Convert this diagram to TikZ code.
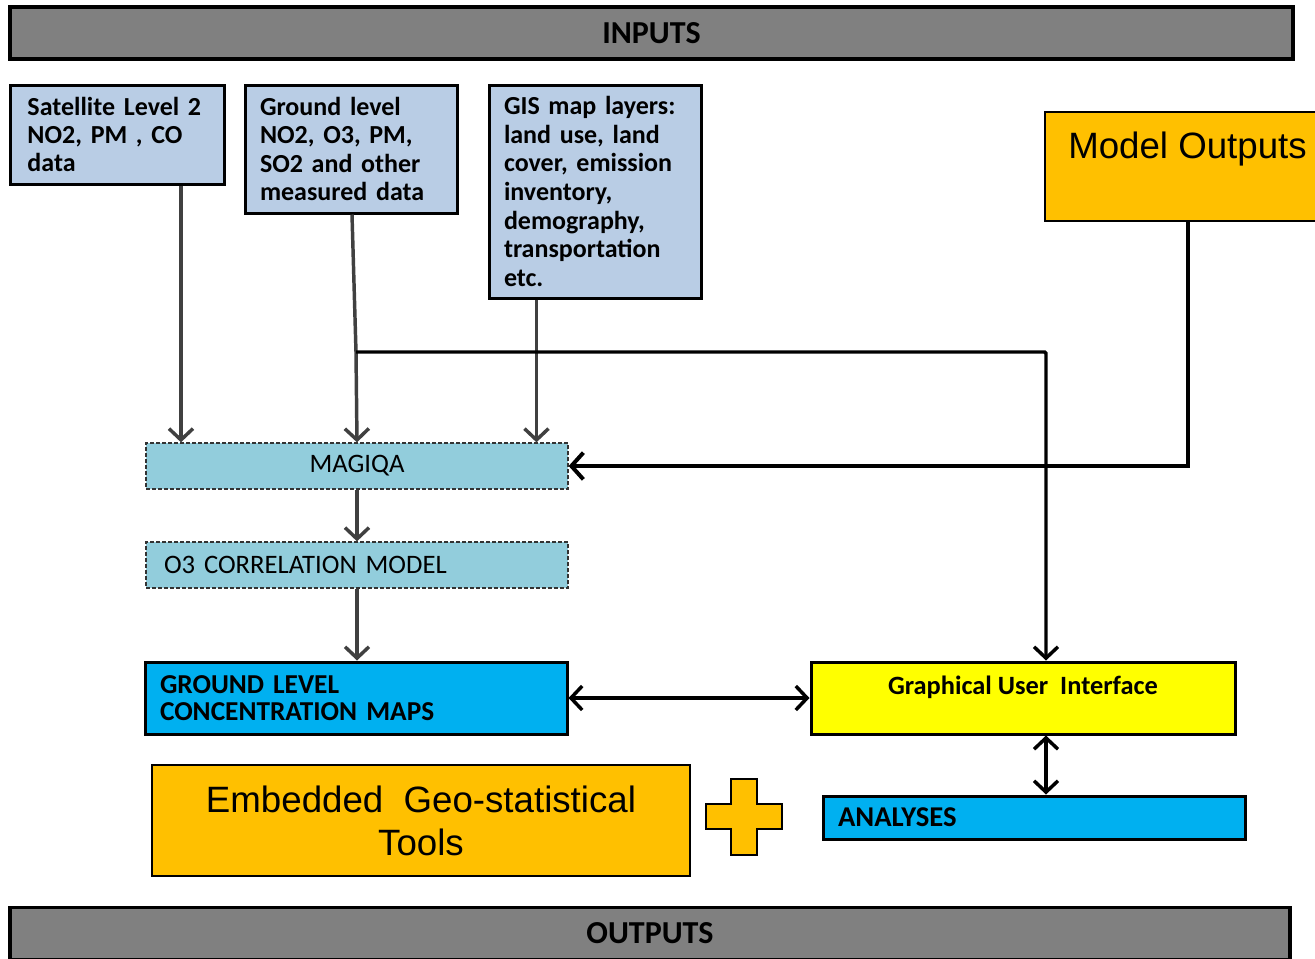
\documentclass[tikz,border=0pt]{standalone}
\usepackage{fontspec}
\setmainfont{Carlito}
\newfontfamily\arialfont{Liberation Sans}
\usetikzlibrary{arrows.meta}
\definecolor{bargray}{HTML}{808080}
\definecolor{inblue}{HTML}{B9CDE5}
\definecolor{modblue}{HTML}{92CDDC}
\definecolor{mapblue}{HTML}{00B0F0}
\definecolor{outorange}{HTML}{FFC000}
\definecolor{guiyellow}{HTML}{FFFF00}
\definecolor{arrgray}{HTML}{404040}
\begin{document}
\begin{tikzpicture}[x=0.75pt,y=-0.75pt,
   bar/.style={draw=black, line width=2.5pt, fill=bargray, minimum height=39pt, inner sep=0pt, font=\fontsize{24}{28}\selectfont\bfseries},
   inbox/.style={draw=black, line width=2.25pt, fill=inblue, align=left, inner xsep=11.25pt, inner ysep=0pt, font=\fontsize{19.5}{21.3}\selectfont\bfseries},
   modbox/.style={draw=black!80, line width=1pt, dash pattern=on 3pt off 1.5pt, fill=modblue, minimum width=316.5pt, minimum height=34.5pt, inner ysep=0pt, font=\fontsize{20}{24}\selectfont},
   mapbox/.style={draw=black, line width=2.25pt, fill=mapblue, align=left, inner xsep=11.25pt, inner ysep=0pt, font=\fontsize{20.5}{20.3}\selectfont\bfseries},
   bigbox/.style={draw=black, line width=1.5pt, fill=outorange, align=center, inner sep=0pt, font=\arialfont\fontsize{27.5}{32.25}\selectfont},
   garrow/.style={draw=arrgray, line width=2.6pt, -{Straight Barb[length=8.5pt,width=18pt]}},
   barrow/.style={draw=black, line width=3pt, -{Straight Barb[length=9pt,width=20pt]}},
   darrow/.style={draw=black, line width=2.6pt, {Straight Barb[length=8.5pt,width=18pt]}-{Straight Barb[length=8.5pt,width=18pt]}}]
   \useasboundingbox (0,0) rectangle (1315,958);
   % bars
   \node[bar, minimum width=962.25pt] (inputs) at (651.5,33) {INPUTS};
   \node[bar, minimum width=960pt] (outputs) at (650,933.5) {OUTPUTS};
   % input boxes
   \node[inbox, text width=135pt, minimum height=74.25pt, inner xsep=12.4pt] (sat) at (117.5,134.5) {Satellite Level 2\\NO2, PM , CO\\data};
   \node[inbox, text width=136.5pt, minimum height=96pt] (ground) at (351,149) {Ground level\\NO2, O3, PM,\\SO2 and other\\measured data};
   \node[inbox, text width=136.5pt, minimum height=159.75pt, font=\fontsize{19.5}{21.4}\selectfont\bfseries] (gis) at (595,191.5) {GIS map layers:\\land use, land\\cover, emission\\inventory,\\demography,\\transportation\\etc.};
   \node[bigbox, minimum width=213.75pt, minimum height=81.75pt] (mout) at (1187.5,166.5) {Model Outputs\\\mbox{}};
   % model chain
   \node[modbox] (magiqa) at (357,466) {MAGIQA};
   \node[modbox, align=left, text width=289.5pt, inner xsep=13.5pt] (o3) at (357,565) {O3 CORRELATION MODEL};
   \node[mapbox, text width=294pt, minimum height=54pt] (maps) at (356,698) {GROUND LEVEL\\CONCENTRATION MAPS};
   \node[draw=black, line width=2.25pt, fill=guiyellow, minimum width=318pt, minimum height=54pt, inner sep=0pt, align=center, font=\fontsize{19.8}{19.5}\selectfont\bfseries] (gui) at (1023,698) {Graphical User \ Interface\\\mbox{}};
   \node[mapbox, text width=294pt, minimum height=32.25pt, font=\fontsize{21.5}{24}\selectfont\bfseries] (ana) at (1034,817.5) {ANALYSES};
   \node[bigbox, minimum width=403.5pt, minimum height=83.25pt] (geo) at (421,820.5) {Embedded \ Geo-statistical\\Tools};
   % plus sign
   \filldraw[fill=outorange, draw=black, line width=1.5pt] (731,779) -- (757,779) -- (757,804) -- (782,804) -- (782,829) -- (757,829) -- (757,855) -- (731,855) -- (731,829) -- (706,829) -- (706,804) -- (731,804) -- cycle;
   % connectors
   \coordinate (split) at (356,352);
   \coordinate (guitop) at ([xshift=17.25pt]gui.north);
   \draw[garrow] ([xshift=47.6pt]sat.south) -- ([xshift=47.6pt]sat.south |- magiqa.north);
   \draw[garrow] ([xshift=0.75pt]ground.south) -- (split) -- (magiqa.north);
   \draw[garrow] ([xshift=-43.9pt]gis.south) -- ([xshift=-43.9pt]gis.south |- magiqa.north);
   \draw[garrow, draw=black, rounded corners=1pt] (split) -| (guitop);
   \draw[barrow] (mout.south) |- (magiqa.east);
   \draw[garrow] (magiqa.south) -- (o3.north);
   \draw[garrow] (o3.south) -- (o3.south |- maps.north);
   \draw[darrow] (maps.east) -- (gui.west);
   \draw[darrow] ([xshift=17.25pt]gui.south) -- ([xshift=17.25pt]gui.south |- ana.north);
\end{tikzpicture}
\end{document}
